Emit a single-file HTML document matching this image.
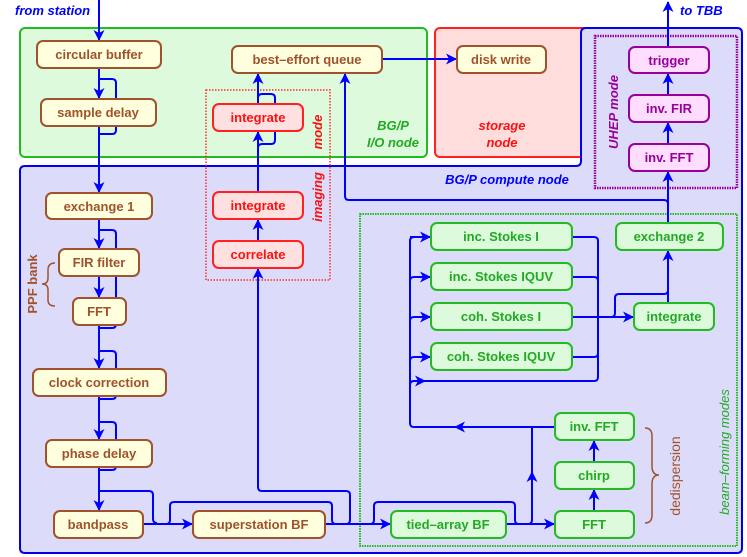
<!DOCTYPE html>
<html><head><meta charset="utf-8"><style>
html,body{margin:0;padding:0;background:#fff}
svg{display:block}
text{font-family:"Liberation Sans",sans-serif;font-weight:bold}
.n{font-size:13px;text-anchor:middle}
.b rect{fill:#ffffdd;stroke:#a0522d;stroke-width:2}
.b text{fill:#a0522d}
.r rect{fill:#ffe0e0;stroke:#ff2020;stroke-width:2}
.r text{fill:#ff1010}
.g rect{fill:#ddfadd;stroke:#22bb22;stroke-width:2}
.g text{fill:#22aa22}
.p rect{fill:#ffddff;stroke:#990099;stroke-width:2}
.p text{fill:#990099}
.w{fill:none;stroke:#0000ff;stroke-width:2}
.it{font-style:italic;font-size:13px}
</style></head><body>
<svg width="747" height="557" viewBox="0 0 747 557" xmlns="http://www.w3.org/2000/svg">
<defs><marker id="a" markerWidth="11" markerHeight="11" refX="10" refY="5.5" orient="auto" markerUnits="userSpaceOnUse"><path d="M0,0 L11,5.5 L0,11 L3,5.5 z" fill="#0000ff"/></marker></defs>
<!-- containers -->
<rect x="20" y="28" width="407" height="129" rx="5" fill="#ddfadd" stroke="#22bb22" stroke-width="2"/>
<rect x="435" y="28" width="162" height="129" rx="5" fill="#ffdddd" stroke="#ff2020" stroke-width="2"/>
<path d="M25,166 H576 Q581,166 581,161 V33 Q581,28 586,28 H737 Q742,28 742,33 V548 Q742,553 737,553 H25 Q20,553 20,548 V171 Q20,166 25,166 Z" fill="#dcdcfa" stroke="#0000ee" stroke-width="2"/>
<rect x="206" y="90" width="124" height="190" fill="none" stroke="#ff3030" stroke-width="1.5" stroke-dasharray="1.5,1.5"/>
<rect x="595" y="36" width="142" height="152" fill="none" stroke="#990099" stroke-width="2.5" stroke-dasharray="1.5,1"/>
<rect x="360" y="214" width="377" height="332" fill="none" stroke="#22bb22" stroke-width="2" stroke-dasharray="1.5,1"/>
<!-- labels -->
<text x="15" y="15" class="it" fill="#0000ff">from station</text>
<text x="680" y="15" class="it" fill="#0000ff">to TBB</text>
<text x="393" y="130" class="it" fill="#22aa22" text-anchor="middle">BG/P</text>
<text x="393" y="147" class="it" fill="#22aa22" text-anchor="middle">I/O node</text>
<text x="502" y="130" class="it" fill="#ff1010" text-anchor="middle">storage</text>
<text x="502" y="147" class="it" fill="#ff1010" text-anchor="middle">node</text>
<text x="507" y="184" class="it" fill="#0000ff" text-anchor="middle">BG/P compute node</text>
<text transform="translate(322,132) rotate(-90)" class="it" fill="#ff1010" text-anchor="middle" font-size="14">mode</text>
<text transform="translate(322,197) rotate(-90)" class="it" fill="#ff1010" text-anchor="middle" font-size="14">imaging</text>
<text transform="translate(618,112) rotate(-90)" class="it" fill="#990099" text-anchor="middle">UHEP mode</text>
<text transform="translate(37,284) rotate(-90)" fill="#a0522d" font-size="13" text-anchor="middle">PPF bank</text>
<text transform="translate(680,476) rotate(-90)" fill="#a0522d" font-size="14" text-anchor="middle" style="font-weight:normal">dedispersion</text>
<text transform="translate(729,452) rotate(-90)" class="it" fill="#22aa22" text-anchor="middle" font-size="14" style="font-weight:normal">beam–forming modes</text>
<path d="M55,263 Q48,263 48,270 V278 Q48,284 42,284 Q48,284 48,290 V300 Q48,306 55,306" fill="none" stroke="#a0522d" stroke-width="1.5"/>
<path d="M645,428 Q652,428 652,436 V466 Q652,475 659,475 Q652,475 652,484 V515 Q652,523 645,523" fill="none" stroke="#a0522d" stroke-width="1.5"/>
<!-- wires -->
<g class="w">
<path d="M99,0 V40" marker-end="url(#a)"/>
<path d="M99,68 V98" marker-end="url(#a)"/>
<path d="M99,79 h13 q4,0 4,4 v16"/>
<path d="M116,126 v4 q0,4 -4,4 h-13"/>
<path d="M99,126 V192" marker-end="url(#a)"/>
<path d="M99,219 V248" marker-end="url(#a)"/>
<path d="M99,230 h13 q4,0 4,4 v90 q0,4 -4,4 h-13"/>
<path d="M99,276 V297" marker-end="url(#a)"/>
<path d="M99,325 V368" marker-end="url(#a)"/>
<path d="M99,351 h13 q4,0 4,4 v40 q0,4 -4,4 h-13"/>
<path d="M99,396 V439" marker-end="url(#a)"/>
<path d="M99,422 h13 q4,0 4,4 v40 q0,4 -4,4 h-13"/>
<path d="M99,467 V510" marker-end="url(#a)"/>
<path d="M99,491 h50 q4,0 4,4 v24 q0,4 4,4"/>
<path d="M143,524 H192" marker-end="url(#a)"/>
<path d="M166,524 q4,0 4,-4 v-14 q0,-4 4,-4 h154 q4,0 4,4 v14 q0,4 4,4"/>
<path d="M325,524 H390" marker-end="url(#a)"/>
<path d="M346,524 q4,0 4,-4 v-25 q0,-4 -4,-4 h-84 q-4,0 -4,-4 V269" marker-end="url(#a)"/>
<path d="M370,524 q4,0 4,-4 v-14 q0,-4 4,-4 h133 q4,0 4,4 v14 q0,4 4,4"/>
<path d="M506,524 H554" marker-end="url(#a)"/>
<path d="M528,524 q4,0 4,-4 V427"/>
<path d="M532,495 V472" marker-end="url(#a)"/>
<path d="M594,511 V490" marker-end="url(#a)"/>
<path d="M594,462 V441" marker-end="url(#a)"/>
<path d="M555,427 H414 q-4,0 -4,-4 V241 q0,-4 4,-4"/>
<path d="M555,427 H455" marker-end="url(#a)"/>
<path d="M410,237 H430" marker-end="url(#a)"/>
<path d="M410,281 q0,-4 4,-4 H430" marker-end="url(#a)"/>
<path d="M410,321 q0,-4 4,-4 H430" marker-end="url(#a)"/>
<path d="M410,361 q0,-4 4,-4 H430" marker-end="url(#a)"/>
<path d="M410,385 q0,-4 4,-4 H425" marker-end="url(#a)"/>
<path d="M414,381 H594 q4,0 4,-4 V241 q0,-4 -4,-4 H572"/>
<path d="M572,277 H594 q4,0 4,4"/>
<path d="M572,357 H594 q4,0 4,-4"/>
<path d="M572,317 H633" marker-end="url(#a)"/>
<path d="M611,317 q4,0 4,-4 v-15 q0,-4 4,-4 h45 q4,0 4,-4"/>
<path d="M668,303 V251" marker-end="url(#a)"/>
<path d="M668,223 V172" marker-end="url(#a)"/>
<path d="M345,74 V196 q0,4 4,4 H664 q4,0 4,4"/>
<path d="M345,90 V74" marker-end="url(#a)"/>
<path d="M668,144 V123" marker-end="url(#a)"/>
<path d="M668,95 V74" marker-end="url(#a)"/>
<path d="M668,47 V2" marker-end="url(#a)"/>
<path d="M258,241 V220" marker-end="url(#a)"/>
<path d="M258,192 V132" marker-end="url(#a)"/>
<path d="M258,148 q0,-4 4,-4 h9 q4,0 4,-4 v-26"/>
<path d="M258,104 V74" marker-end="url(#a)"/>
<path d="M258,98 q0,-4 4,-4 h9 q4,0 4,4 v6"/>
<path d="M382,59 H456" marker-end="url(#a)"/>
</g>
<!-- nodes -->
<g class="b">
<rect x="37" y="41" width="124" height="27" rx="6"/><text class="n" x="99" y="59">circular buffer</text>
<rect x="41" y="99" width="115" height="27" rx="6"/><text class="n" x="98" y="117">sample delay</text>
<rect x="46" y="193" width="106" height="26" rx="6"/><text class="n" x="99" y="211">exchange 1</text>
<rect x="59" y="249" width="80" height="27" rx="6"/><text class="n" x="99" y="267">FIR filter</text>
<rect x="73" y="298" width="53" height="27" rx="6"/><text class="n" x="99" y="316">FFT</text>
<rect x="33" y="369" width="133" height="27" rx="6"/><text class="n" x="99" y="387">clock correction</text>
<rect x="46" y="440" width="106" height="27" rx="6"/><text class="n" x="99" y="458">phase delay</text>
<rect x="54" y="511" width="89" height="27" rx="6"/><text class="n" x="98" y="529">bandpass</text>
<rect x="193" y="511" width="132" height="27" rx="6"/><text class="n" x="259" y="529">superstation BF</text>
<rect x="232" y="46" width="150" height="27" rx="6"/><text class="n" x="307" y="64">best–effort queue</text>
<rect x="457" y="46" width="89" height="27" rx="6"/><text class="n" x="501" y="64">disk write</text>
</g>
<g class="r">
<rect x="213" y="104" width="90" height="27" rx="6"/><text class="n" x="258" y="122">integrate</text>
<rect x="213" y="192" width="90" height="27" rx="6"/><text class="n" x="258" y="210">integrate</text>
<rect x="213" y="241" width="90" height="27" rx="6"/><text class="n" x="258" y="259">correlate</text>
</g>
<g class="g">
<rect x="431" y="223" width="141" height="27" rx="6"/><text class="n" x="501" y="241">inc. Stokes I</text>
<rect x="431" y="263" width="141" height="27" rx="6"/><text class="n" x="501" y="281">inc. Stokes IQUV</text>
<rect x="431" y="303" width="141" height="27" rx="6"/><text class="n" x="501" y="321">coh. Stokes I</text>
<rect x="431" y="343" width="141" height="27" rx="6"/><text class="n" x="501" y="361">coh. Stokes IQUV</text>
<rect x="616" y="223" width="107" height="27" rx="6"/><text class="n" x="669" y="241">exchange 2</text>
<rect x="634" y="303" width="80" height="27" rx="6"/><text class="n" x="674" y="321">integrate</text>
<rect x="555" y="413" width="79" height="27" rx="6"/><text class="n" x="594" y="431">inv. FFT</text>
<rect x="555" y="462" width="79" height="27" rx="6"/><text class="n" x="594" y="480">chirp</text>
<rect x="555" y="511" width="79" height="27" rx="6"/><text class="n" x="594" y="529">FFT</text>
<rect x="391" y="511" width="115" height="27" rx="6"/><text class="n" x="448" y="529">tied–array BF</text>
</g>
<g class="p">
<rect x="629" y="47" width="80" height="26" rx="6"/><text class="n" x="669" y="65">trigger</text>
<rect x="629" y="95" width="80" height="27" rx="6"/><text class="n" x="669" y="113">inv. FIR</text>
<rect x="629" y="144" width="80" height="27" rx="6"/><text class="n" x="669" y="162">inv. FFT</text>
</g>
</svg>
</body></html>
